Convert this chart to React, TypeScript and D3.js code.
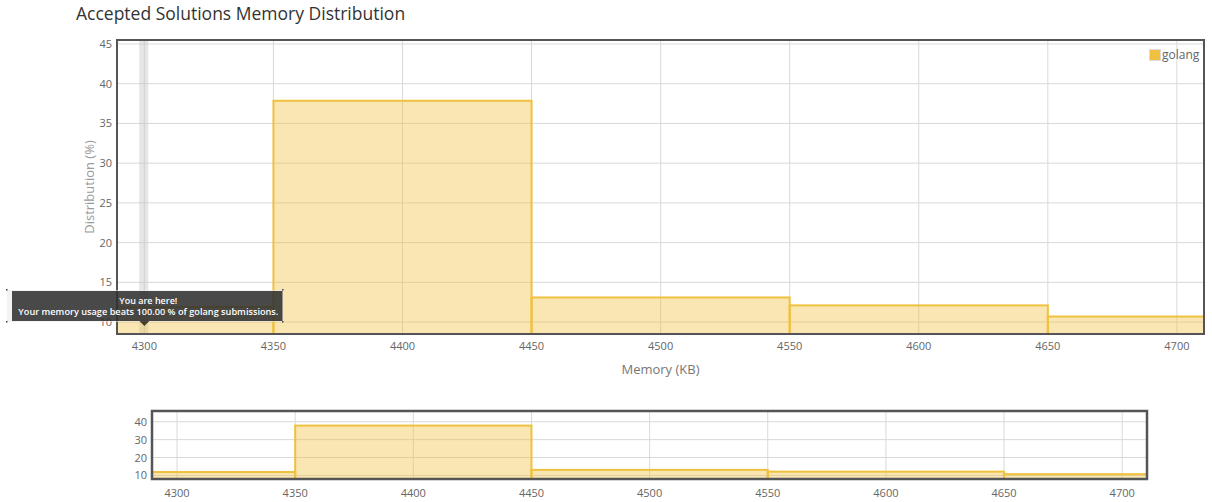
import React from "react";
import { scaleLinear } from "d3";

// histogram bins (KB) and share of accepted golang submissions (%)
const binStarts = [4250, 4350, 4450, 4550, 4650];
const binWidth = 100;
const distribution = [11.9, 37.85, 13.1, 12.1, 10.7];

const xTicks = [4300, 4350, 4400, 4450, 4500, 4550, 4600, 4650, 4700];
const yTicks = [10, 15, 20, 25, 30, 35, 40, 45];
const navYTicks = [10, 20, 30, 40];

const seriesName = "golang";
const myMemory = 4300;
const beats = "100.00";

const FONT = "'Open Sans', 'Noto Sans', sans-serif";
const STROKE = "#efc13f";
const FILL = "rgba(240,192,64,0.4)";
const GRID = "#d9d9d9";
const FRAME = "#555";

const xDomain: [number, number] = [4289.4, 4710.5];

const App = () => {
  // main plot
  const x = scaleLinear().domain(xDomain).range([117, 1204]);
  const y = scaleLinear().domain([8.5, 45.5]).range([334, 40]);
  // navigator
  const nx = scaleLinear().domain(xDomain).range([152, 1147]);
  const ny = scaleLinear().domain([8, 46]).range([479, 411]);

  const bars = (sx: any, sy: any, key: string) =>
    binStarts.map((b, i) => (
      <rect
        key={key + i}
        x={sx(b)}
        y={sy(distribution[i])}
        width={sx(b + binWidth) - sx(b)}
        height={sy.range()[0] - sy(distribution[i]) + 4}
        fill={FILL}
        stroke={STROKE}
        strokeWidth={2}
      />
    ));

  const [mx0, mx1] = x.range();
  const [my0, my1] = y.range();
  const [nx0, nx1] = nx.range();
  const [ny0, ny1] = ny.range();

  const tipX = x(myMemory);

  return (
    <svg
      width={1212}
      height={502}
      style={{ position: "absolute", left: 0, top: 0, background: "#fff" }}
      fontFamily={FONT}
    >
      <defs>
        <clipPath id="mainClip">
          <rect x={mx0} y={my1} width={mx1 - mx0} height={my0 - my1} />
        </clipPath>
        <clipPath id="navClip">
          <rect x={nx0} y={ny1} width={nx1 - nx0} height={ny0 - ny1} />
        </clipPath>
      </defs>

      <text x={76} y={20} fontSize={17.5} fill="#333">
        Accepted Solutions Memory Distribution
      </text>

      {/* main chart grid */}
      <g>
        {yTicks.map((t) => (
          <line key={"gy" + t} x1={mx0} x2={mx1} y1={y(t)} y2={y(t)} stroke={GRID} />
        ))}
        {xTicks.map((t) => (
          <line key={"gx" + t} x1={x(t)} x2={x(t)} y1={my1} y2={my0} stroke={GRID} />
        ))}
      </g>

      {/* "you are here" band */}
      <rect
        x={x(myMemory - 2)}
        y={my1}
        width={x(myMemory + 1.5) - x(myMemory - 2)}
        height={my0 - my1}
        fill="rgba(200,200,200,0.45)"
      />

      <g clipPath="url(#mainClip)">{bars(x, y, "m")}</g>

      <rect x={mx0} y={my1} width={mx1 - mx0} height={my0 - my1} fill="none" stroke={FRAME} strokeWidth={2} />

      {yTicks.map((t) => (
        <text key={"ly" + t} x={112} y={y(t) + 4} fontSize={11} fill="#666" textAnchor="end">
          {t}
        </text>
      ))}
      {xTicks.map((t) => (
        <text key={"lx" + t} x={x(t)} y={350} fontSize={11} fill="#666" textAnchor="middle">
          {t}
        </text>
      ))}

      <text
        transform={`translate(94, ${(my0 + my1) / 2}) rotate(-90)`}
        fontSize={13}
        fill="#999"
        textAnchor="middle"
      >
        Distribution (%)
      </text>
      <text x={(mx0 + mx1) / 2} y={374} fontSize={13} fill="#777" textAnchor="middle">
        Memory (KB)
      </text>

      {/* legend */}
      <rect x={1149.5} y={49.5} width={11} height={11} fill="#f0c040" stroke="#ddd" />
      <text x={1162} y={59} fontSize={12} fill="#666">
        {seriesName}
      </text>

      {/* navigator */}
      <g>
        {navYTicks.map((t) => (
          <line key={"ngy" + t} x1={nx0} x2={nx1} y1={ny(t)} y2={ny(t)} stroke={GRID} />
        ))}
        {xTicks.map((t) => (
          <line key={"ngx" + t} x1={nx(t)} x2={nx(t)} y1={ny1} y2={ny0} stroke={GRID} />
        ))}
      </g>
      <g clipPath="url(#navClip)">{bars(nx, ny, "n")}</g>
      <rect x={nx0} y={ny1} width={nx1 - nx0} height={ny0 - ny1} fill="none" stroke={FRAME} strokeWidth={2.5} />
      {navYTicks.map((t) => (
        <text key={"nly" + t} x={147} y={ny(t) + 4} fontSize={11} fill="#666" textAnchor="end">
          {t}
        </text>
      ))}
      {xTicks.map((t) => (
        <text key={"nlx" + t} x={nx(t)} y={497} fontSize={11} fill="#666" textAnchor="middle">
          {t}
        </text>
      ))}

      {/* tooltip */}
      <g>
        <rect x={7} y={290} width={276} height={32} fill="rgba(235,235,235,0.6)" />
        {[
          [7, 290],
          [283, 290],
          [7, 322],
          [283, 322],
        ].map(([cx, cy], i) => (
          <rect key={"d" + i} x={cx - 1} y={cy - 1} width={1.5} height={1.5} fill="#444" />
        ))}
        <rect x={12} y={291} width={270.5} height={30} fill="rgba(0,0,0,0.7)" />
        <path
          d={`M${tipX - 5},321 L${tipX + 5},321 L${tipX},326 Z`}
          fill="rgba(0,0,0,0.7)"
        />
        <text
          x={tipX + 4}
          y={303.5}
          fontSize={9.5}
          fill="#fff"
          textAnchor="middle"
          fontWeight={600}
          textLength={58}
          lengthAdjust="spacingAndGlyphs"
        >
          You are here!
        </text>
        <text
          x={tipX + 4}
          y={315}
          fontSize={9.5}
          fill="#fff"
          textAnchor="middle"
          fontWeight={600}
          textLength={260}
          lengthAdjust="spacingAndGlyphs"
        >
          {`Your memory usage beats ${beats} % of ${seriesName} submissions.`}
        </text>
      </g>
    </svg>
  );
};

export default App;
